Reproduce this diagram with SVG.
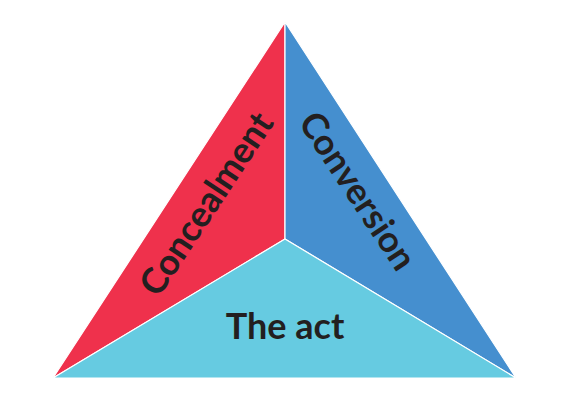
<svg xmlns="http://www.w3.org/2000/svg" width="570" height="400" viewBox="0 0 570 400">
<style>
.s{stroke:#ffffff;stroke-width:1.2;stroke-linejoin:round}
.t{font-family:Lato,"Noto Sans",sans-serif;font-weight:bold;font-size:36px;fill:#231f20;text-anchor:middle;dominant-baseline:central}
</style>
<rect width="570" height="400" fill="#ffffff"/>
<g id="concealment">
<polygon class="s" points="285,22 285,239 53,378" fill="#ef314c"/>
<text class="t" transform="translate(205,203) rotate(-56.5)">Concealment</text>
</g>
<g id="conversion">
<polygon class="s" points="285,22 516,378 285,239" fill="#458fcf"/>
<text class="t" transform="translate(359,190) rotate(56.5)">Conversion</text>
</g>
<g id="the-act">
<polygon class="s" points="53,378 285,239 516,378" fill="#66cbe1"/>
<text class="t" x="285" y="325">The act</text>
</g>
<g id="connectors"></g>
</svg>
